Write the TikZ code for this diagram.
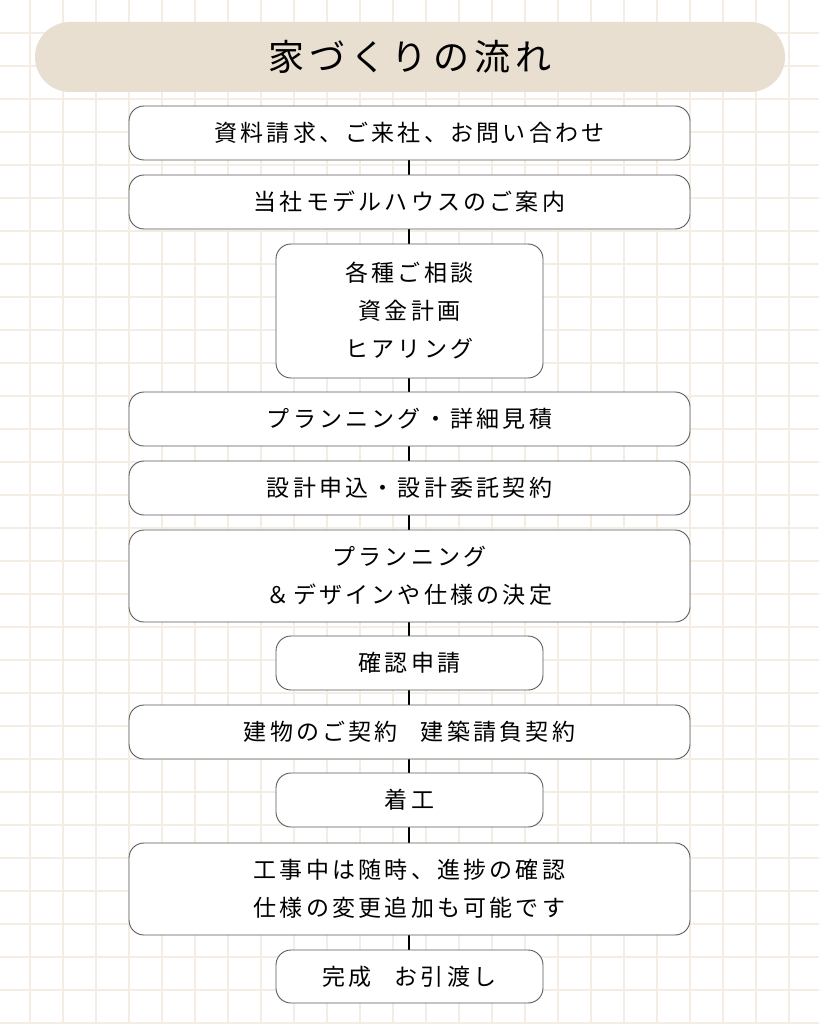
\documentclass[tikz,border=0pt]{standalone}
\usepackage{fontspec}
\setmainfont{Noto Sans CJK JP}
\newfontfamily\jpwide[LetterSpace=14]{Noto Sans CJK JP}
\usetikzlibrary{positioning}
\definecolor{gridc}{RGB}{243,237,228}
\definecolor{pill}{RGB}{232,223,208}
\definecolor{edge}{RGB}{90,90,90}
\tikzset{
  stepbox/.style={draw=edge,line width=0.9pt,fill=white,rounded corners=15pt,
    align=center,font=\jpwide\fontsize{23}{38}\selectfont,inner sep=0pt},
  widebox/.style={stepbox,minimum width=561pt},
  narrowbox/.style={stepbox,minimum width=267pt}
}
\begin{document}
\begin{tikzpicture}[x=1pt,y=-1pt]
  \useasboundingbox (0,0) rectangle (819,1024);
  %grid
  \fill[white] (0,0) rectangle (819,1024);
  \foreach \i in {0,...,24}
    \draw[gridc,line width=2pt] (30+33*\i,0) -- (30+33*\i,1024);
  \foreach \i in {0,...,31}
    \draw[gridc,line width=2pt] (0,33+33*\i) -- (819,33+33*\i);
  %title
  \node[fill=pill,rounded corners=35pt,minimum width=750pt,minimum height=70pt,
    font=\jpwide\fontsize{36}{40}\selectfont] (title) at (410,57) {家づくりの流れ};
  %spine
  \coordinate (top) at (409,160);
  \coordinate (bot) at (409,950);
  \draw[black,line width=1.2pt] (top) -- (bot);
  %steps
  \node[widebox,minimum height=54pt] (s1) at (409.5,133) {資料請求、ご来社、お問い合わせ};
  \node[widebox,minimum height=54pt] (s2) at (409.5,202) {当社モデルハウスのご案内};
  \node[narrowbox,minimum height=134pt] (s3) at (409.5,311) {各種ご相談\\資金計画\\ヒアリング};
  \node[widebox,minimum height=54pt] (s4) at (409.5,419) {プランニング・詳細見積};
  \node[widebox,minimum height=54pt] (s5) at (409.5,488) {設計申込・設計委託契約};
  \node[widebox,minimum height=92pt] (s6) at (409.5,576) {プランニング\\＆デザインや仕様の決定};
  \node[narrowbox,minimum height=54pt] (s7) at (409.5,663) {確認申請};
  \node[widebox,minimum height=54pt] (s8) at (409.5,732) {建物のご契約\quad 建築請負契約};
  \node[narrowbox,minimum height=54pt] (s9) at (409.5,800) {着工};
  \node[widebox,minimum height=92pt] (s10) at (409.5,889) {工事中は随時、進捗の確認\\仕様の変更追加も可能です};
  \node[narrowbox,minimum height=53pt] (s11) at (409.5,976.5) {完成\quad お引渡し};
\end{tikzpicture}
\end{document}
